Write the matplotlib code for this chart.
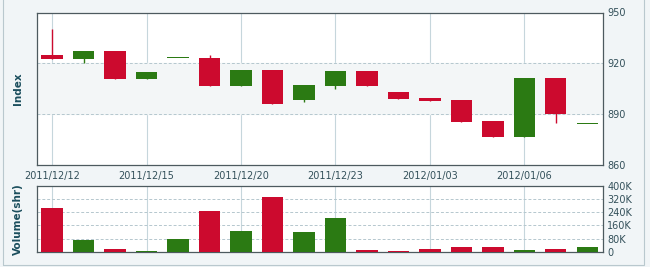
import numpy as np
import matplotlib.pyplot as plt
from matplotlib.patches import Rectangle
from matplotlib.ticker import FuncFormatter

# daily OHLC (red = up, green = down) and volume
opens = [922.6, 927.3, 910.9, 915.1, 923.5, 906.6, 916.1, 896.0, 907.2,
         915.5, 906.6, 898.9, 897.8, 885.4, 876.3, 911.3, 889.9, 884.6]
closes = [924.9, 922.7, 927.3, 910.7, 923.5, 923.1, 906.6, 916.1, 898.2,
          906.6, 915.5, 903.1, 899.7, 898.5, 886.0, 876.5, 911.3, 884.6]
highs = [940.3, 927.3, 927.3, 915.1, 923.5, 924.7, 916.1, 916.1, 907.2,
         915.5, 915.5, 903.1, 899.7, 898.5, 886.0, 911.3, 911.3, 884.6]
lows = [922.6, 920.4, 910.9, 910.7, 923.5, 906.6, 906.6, 896.0, 897.0,
        904.7, 906.6, 898.9, 897.8, 885.4, 876.3, 876.5, 884.8, 884.6]
volumes = [264, 70, 21, 9, 78, 247, 124, 330, 118,
           203, 11, 5, 21, 33, 33, 15, 21, 33]  # thousands
up_flags = [1, 0, 1, 0, 0, 1, 0, 1, 0, 0, 1, 1, 1, 1, 1, 0, 1, 0]

tick_pos = [0, 3, 6, 9, 12, 15]
tick_labels = ['2011/12/12', '2011/12/15', '2011/12/20',
               '2011/12/23', '2012/01/03', '2012/01/06']

red = '#cc0a2e'
green = '#2b7a13'
txt = '#33505a'
lab = '#1c4f5e'
W, H = 650, 267

fig = plt.figure(figsize=(6.5, 2.67), dpi=100)
fig.patch.set_facecolor('#f1f5f7')
fig.patches.append(Rectangle((3 / W, 2 / H), 641 / W, 1.0, transform=fig.transFigure,
                             fill=False, edgecolor='#b9c8ce', lw=0.8))

ax = fig.add_axes([37 / W, 1 - 165 / H, 566 / W, 152.5 / H])
axv = fig.add_axes([37 / W, 1 - 252 / H, 566 / W, 66.5 / H])

x = np.arange(len(opens))
cols = [red if u else green for u in up_flags]
bw = 0.68

for a in (ax, axv):
    a.set_facecolor('white')
    a.set_xlim(-0.48, 17.5)
    for s in a.spines.values():
        s.set_color('#4d5a5f')
        s.set_linewidth(0.9)
    a.set_xticks(tick_pos)
    a.tick_params(length=0, colors=txt, labelsize=7)
    a.yaxis.tick_right()
    for p in tick_pos:
        a.axvline(p, color='#c6d6dc', lw=0.8, zorder=0)

# price panel
ax.set_ylim(860, 950)
ax.set_yticks([860, 890, 920, 950])
ax.axhspan(890, 920, color='#f3f6f7', zorder=0)
for v in (890, 920):
    ax.axhline(v, color='#b5c7ce', lw=0.7, ls=(0, (3, 2)), zorder=0)
ax.vlines(x, lows, highs, colors=cols, lw=1.0, zorder=2)
bottoms = np.minimum(opens, closes)
heights = np.abs(np.array(closes) - np.array(opens))
ax.bar(x, np.maximum(heights, 0.8), bw, bottom=bottoms - 0.4 * (heights < 0.8),
       color=cols, zorder=3)
ax.set_xticklabels(tick_labels)
ax.set_ylabel('Index', color=lab, fontsize=7.5, fontweight='bold', labelpad=10)

# volume panel
axv.set_ylim(0, 400)
axv.set_yticks([0, 80, 160, 240, 320, 400])
axv.yaxis.set_major_formatter(FuncFormatter(lambda v, p: '0' if v == 0 else '%dK' % v))
for v in (80, 160, 240, 320):
    axv.axhline(v, color='#b5c7ce', lw=0.7, ls=(0, (3, 2)), zorder=0)
axv.bar(x, volumes, bw, color=cols, zorder=3)
axv.set_xticklabels([])
axv.set_ylabel('Volume(shr)', color=lab, fontsize=7.5, fontweight='bold', labelpad=10)

ax.tick_params(axis='y', pad=3)
axv.tick_params(axis='y', pad=3)
ax.tick_params(axis='x', pad=4)

fig.savefig('out.png', dpi=100, facecolor=fig.get_facecolor())
